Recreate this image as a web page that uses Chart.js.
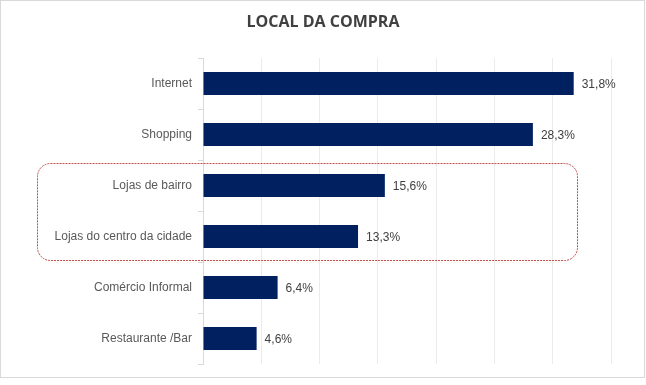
<!DOCTYPE html>
<html>
<head>
<meta charset="utf-8">
<script src="https://cdn.jsdelivr.net/npm/chart.js@4"></script>
<style>
html,body{margin:0;padding:0;background:#fff;}
#wrap{position:absolute;left:0;top:0;width:646px;height:385px;}
</style>
</head>
<body>
<div id="wrap"><canvas id="c" width="646" height="385"></canvas></div>
<script>
const chartTitle = "LOCAL DA COMPRA";
const categories = ["Internet", "Shopping", "Lojas de bairro", "Lojas do centro da cidade", "Comércio Informal", "Restaurante /Bar"];
const values = [31.8, 28.3, 15.6, 13.3, 6.4, 4.6];
const valueLabels = ["31,8%", "28,3%", "15,6%", "13,3%", "6,4%", "4,6%"];
const highlighted = ["Lojas de bairro", "Lojas do centro da cidade"];

const FONT = "'Liberation Sans', Arial, sans-serif";

const decor = {
  id: 'decor',
  beforeDraw(chart) {
    const ctx = chart.ctx;
    ctx.save();
    ctx.fillStyle = '#fff';
    ctx.fillRect(0, 0, chart.width, chart.height);
    ctx.strokeStyle = '#d9d9d9';
    ctx.lineWidth = 1;
    ctx.strokeRect(0.5, 0.5, 644, 377);
    ctx.fillStyle = '#404040';
    ctx.font = "bold 16px 'Open Sans', sans-serif";
    ctx.textAlign = 'center';
    ctx.textBaseline = 'middle';
    ctx.fillText(chartTitle, 323, 22);
    ctx.restore();
  },
  afterDatasetsDraw(chart) {
    const ctx = chart.ctx;
    const meta = chart.getDatasetMeta(0);
    ctx.save();
    ctx.fillStyle = '#404040';
    ctx.font = "12px " + FONT;
    ctx.textAlign = 'left';
    ctx.textBaseline = 'middle';
    meta.data.forEach((bar, i) => {
      ctx.fillText(valueLabels[i], bar.x + 8, bar.y + 1);
    });
    // highlight box
    const ys = chart.scales.y;
    const i0 = categories.indexOf(highlighted[0]);
    const i1 = categories.indexOf(highlighted[1]);
    const step = ys.getPixelForValue(1) - ys.getPixelForValue(0);
    const top = ys.getPixelForValue(i0) - step / 2 + 3;
    const bot = ys.getPixelForValue(i1) + step / 2 - 2;
    const left = 37.5, right = 577.5, r = 13;
    ctx.shadowColor = 'rgba(0,0,0,0.06)';
    ctx.shadowBlur = 3;
    ctx.shadowOffsetX = 1;
    ctx.shadowOffsetY = 1;
    ctx.strokeStyle = '#c0504d';
    ctx.lineWidth = 1;
    ctx.setLineDash([2, 1]);
    ctx.beginPath();
    ctx.roundRect(left, Math.round(top) + 0.5, right - left, Math.round(bot - top), r);
    ctx.stroke();
    ctx.restore();
  }
};

new Chart(document.getElementById('c'), {
  type: 'bar',
  data: {
    labels: categories,
    datasets: [{
      data: values,
      backgroundColor: '#002060',
      categoryPercentage: 0.9,
      barPercentage: 0.5
    }]
  },
  options: {
    indexAxis: 'y',
    responsive: false,
    animation: false,
    devicePixelRatio: 1,
    layout: { padding: { left: 0, right: 35, top: 58, bottom: 21 } },
    plugins: { legend: { display: false }, title: { display: false }, tooltip: { enabled: false } },
    scales: {
      x: {
        min: 0, max: 35,
        ticks: { display: false, stepSize: 5 },
        grid: { color: '#ebebeb', drawTicks: false },
        border: { display: false }
      },
      y: {
        afterFit(s) { s.width = 203; },
        ticks: { color: '#595959', font: { family: FONT, size: 12 }, padding: 6 },
        grid: { drawOnChartArea: false, color: '#d9d9d9', tickLength: 5, offset: true },
        border: { color: '#d9d9d9' }
      }
    }
  },
  plugins: [decor]
});
</script>
</body>
</html>
